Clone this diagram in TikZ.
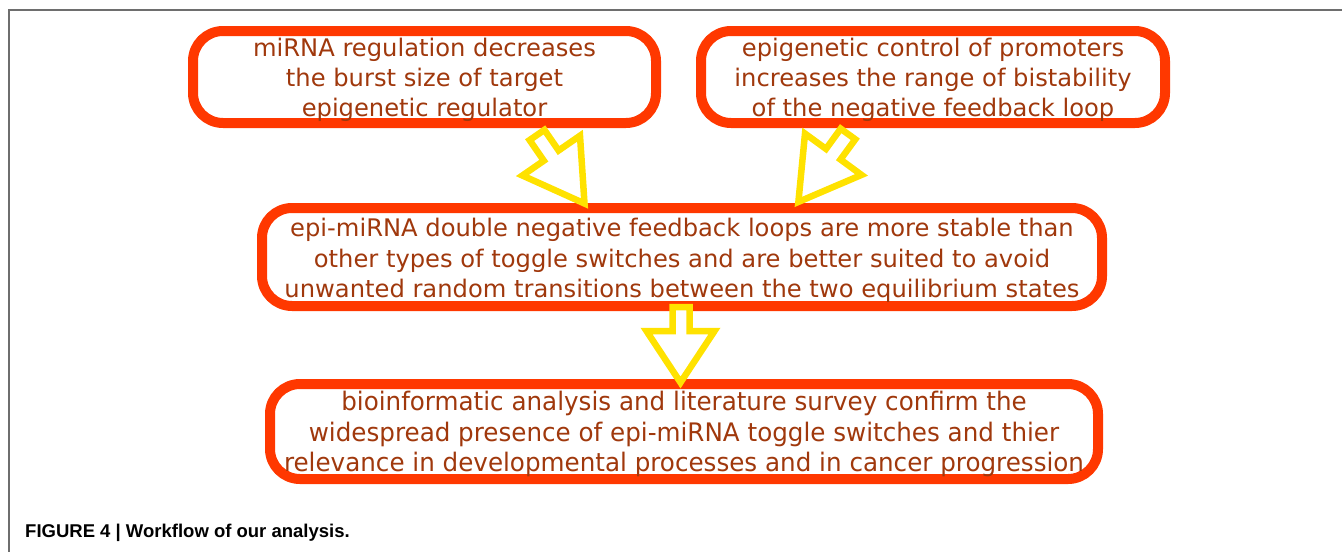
\documentclass[tikz,border=0pt]{standalone}
\usepackage{fontspec}
\setmainfont{DejaVu Sans}
\newfontfamily\condfont[FakeStretch=0.965]{DejaVu Sans}
\newfontfamily\capfont{Liberation Sans}
\definecolor{boxred}{RGB}{255,56,0}
\definecolor{txtbrown}{RGB}{160,56,12}
\definecolor{arrowyellow}{RGB}{255,226,0}
\definecolor{framegray}{RGB}{110,110,110}
\tikzset{
  flowbox/.style={draw=boxred, line width=10pt, rounded corners=30pt, fill=white, inner sep=0pt},
  flowtext/.style={align=center, text=txtbrown, inner sep=0pt,
    font=\fontsize{24.2}{30.3}\selectfont},
  blockarrow/.style={draw=arrowyellow, line width=6.5pt, fill=white, line join=miter, miter limit=10},
}
\begin{document}
\begin{tikzpicture}[x=1pt,y=-1pt]
\useasboundingbox (0,0) rectangle (1342,552);
% frame
\draw[framegray, line width=1.5pt] (1342,10) -- (9,10) -- (9,552);
% boxes
\node[flowbox, minimum width=463pt, minimum height=92pt] (b1) at (424.5,77) {};
\node[flowbox, minimum width=464pt, minimum height=92pt] (b2) at (933,77) {};
\node[flowbox, minimum width=840pt, minimum height=98pt] (b3) at (682,257) {};
\node[flowbox, minimum width=828pt, minimum height=95pt] (b4) at (684,431.5) {};
% texts
\node[flowtext] (t1) at ([yshift=-3pt]b1.center)
  {miRNA regulation decreases\\the burst size of target\\epigenetic regulator};
\node[flowtext] (t2) at ([yshift=-3pt]b2.center)
  {epigenetic control of promoters\\increases the range of bistability\\of the negative feedback loop};
\node[flowtext] (t3) at ([yshift=-3.5pt]b3.center)
  {epi-miRNA double negative feedback loops are more stable than\\other types of toggle switches and are better suited to avoid\\unwanted random transitions between the two equilibrium states};
\node[flowtext, font=\condfont\fontsize{25.5}{30.3}\selectfont] (t4) at ([yshift=-2.5pt]b4.center)
  {bioinformatic analysis and literature survey confirm the\\widespread presence of epi-miRNA toggle switches and thier\\relevance in developmental processes and in cancer progression};
% block arrows
\draw[blockarrow] (544.4,129.9) -- (558.6,150.5) -- (580,135.7) -- (584.5,203.5)
  -- (522.4,175.5) -- (543.8,160.7) -- (529.6,140.1) -- cycle;
\draw[blockarrow] (840.7,128.7) -- (855.3,139.3) -- (840.5,159.5) -- (861.5,174.9)
  -- (798.4,201.9) -- (805,133.6) -- (826,148.9) -- cycle;
\draw[blockarrow] (672.5,307) -- (689.5,307) -- (689.5,331) -- (714.5,331)
  -- (680.5,382.5) -- (646.5,331) -- (672.5,331) -- cycle;
% caption
\node[anchor=base west, inner sep=0pt, font=\capfont\bfseries\fontsize{18.5}{22}\selectfont] (cap) at (25,537.5)
  {FIGURE 4 | Workflow of our analysis.};
\end{tikzpicture}
\end{document}
